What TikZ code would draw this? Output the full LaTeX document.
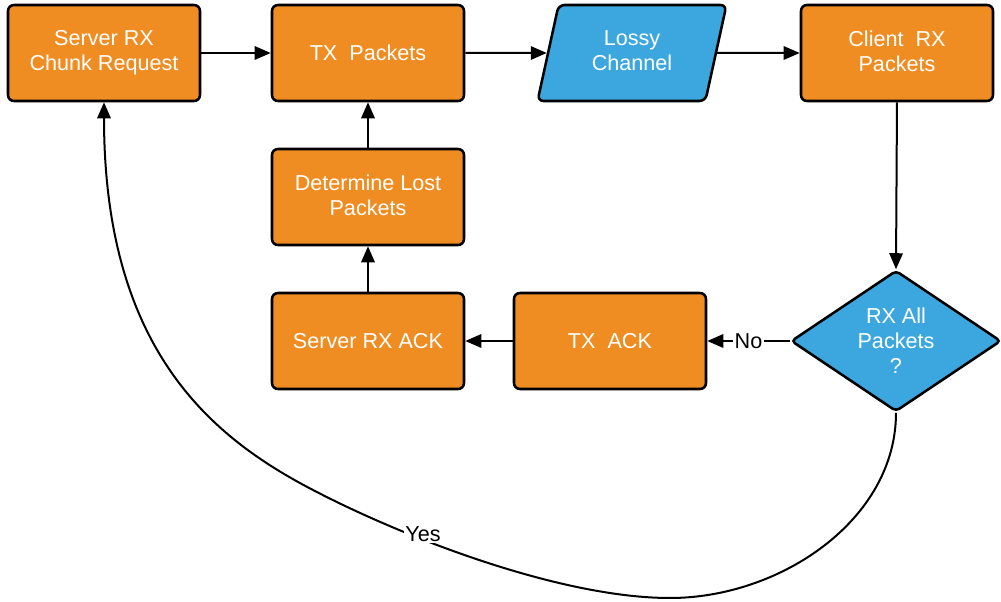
\documentclass[tikz,border=0pt]{standalone}
\usepackage{fontspec}
\setmainfont{Liberation Sans}
\usetikzlibrary{shapes.geometric,arrows.meta}
\definecolor{boxorange}{HTML}{EF8D22}
\definecolor{boxblue}{HTML}{3BA7DE}
\tikzset{
  base/.style={draw=black, line width=1.9pt, text=white, align=center,
    font=\fontsize{16.2pt}{18.75pt}\selectfont, inner sep=0pt},
  procbox/.style={base, rectangle, rounded corners=4.5pt, fill=boxorange,
    minimum width=144pt, minimum height=72pt},
  iobox/.style={base, trapezium, trapezium left angle=75.4, trapezium right angle=104.6,
    trapezium stretches=true, rounded corners=4.5pt, fill=boxblue,
    minimum width=142.5pt, minimum height=72pt},
  decbox/.style={base, diamond, aspect=1.5, fill=boxblue,
    minimum width=157.5pt, minimum height=105.75pt, rounded corners=3pt},
  conn/.style={line width=1.5pt, -{Triangle[length=12pt,width=10pt]}},
  lbl/.style={fill=white, inner sep=1pt, text=black, font=\fontsize{16.2pt}{18.75pt}\selectfont}
}
\begin{document}
\begin{tikzpicture}[x=0.75pt,y=-0.75pt]
\useasboundingbox (0,0) rectangle (1001,602);
\node[procbox] (srv) at (104,53) {Server RX\\Chunk Request\vphantom{g}};
\node[procbox] (txp) at (368,53) {TX\ \ Packets};
\node[iobox] (lossy) at (632,53) {Lossy\\Channel\vphantom{g}};
\node[procbox] (cli) at (897,53) {Client\ \ RX\\Packets\vphantom{g}};
\node[procbox] (det) at (368,197) {Determine Lost\\Packets\vphantom{g}};
\node[procbox] (sack) at (368,341) {Server RX ACK};
\node[procbox] (tack) at (610,341) {TX\ \ ACK};
\node[decbox] (dia) at (896,341) {RX All\\Packets\\?};

\coordinate (low) at (670,598);
\coordinate (mid) at (313,490);

\draw[conn] (srv.east) -- (txp.west);
\draw[conn] (txp.east) -- (lossy.west);
\draw[conn] (lossy.east) -- (cli.west);
\draw[conn] (cli.south) -- (dia.north);
\draw[conn] (dia.west) -- node[lbl] {No} (tack.east);
\draw[conn] (tack.west) -- (sack.east);
\draw[conn] (sack.north) -- (det.south);
\draw[conn] (det.north) -- (txp.south);
\draw[conn] (dia.south) .. controls (896,520) and (780,598) .. (low)
  .. controls (560,598) and (403,537) .. (mid)
  .. controls (213,438) and (104,351) .. (srv.south);
\node[lbl] (yes) at (423,534) {Yes};
\end{tikzpicture}
\end{document}
